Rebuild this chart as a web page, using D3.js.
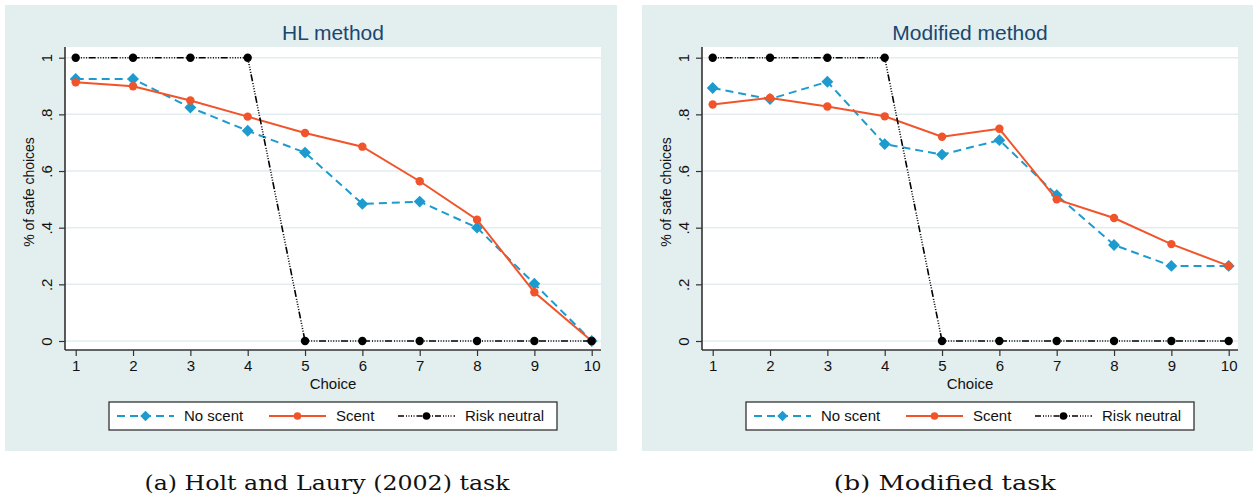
<!DOCTYPE html>
<html>
<head>
<meta charset="utf-8">
<script src="https://cdn.jsdelivr.net/npm/d3@7"></script>
<style>
  body { margin: 0; background: #fff; }
  svg { display: block; }
</style>
</head>
<body>
<svg width="1253" height="500"></svg>
<script>
// данные
const choices = [1, 2, 3, 4, 5, 6, 7, 8, 9, 10];
const yTicks = [0, 0.2, 0.4, 0.6, 0.8, 1];
const yTickLabels = ["0", ".2", ".4", ".6", ".8", "1"];
const seriesNames = ["No scent", "Scent", "Risk neutral"];

const hlNoScent = [0.925, 0.925, 0.824, 0.742, 0.665, 0.484, 0.492, 0.400, 0.202, 0.0];
const hlScent = [0.913, 0.899, 0.849, 0.792, 0.734, 0.686, 0.564, 0.428, 0.172, 0.0];
const modNoScent = [0.893, 0.854, 0.915, 0.695, 0.658, 0.709, 0.515, 0.339, 0.265, 0.265];
const modScent = [0.835, 0.858, 0.828, 0.793, 0.721, 0.749, 0.500, 0.434, 0.342, 0.265];
const riskNeutral = [1, 1, 1, 1, 0, 0, 0, 0, 0, 0];

const panelTitles = ["HL method", "Modified method"];
const captions = ["(a) Holt and Laury (2002) task", "(b) Modified task"];
const captionWidths = [365, 222];

const colNoScent = "#1d9bcf";
const colScent = "#f1542a";
const colRisk = "#000";
const fontSans = "'Liberation Sans', Arial, sans-serif";

const svg = d3.select("svg");

function drawPanel(dx, title, caption, capWidth, noScent, scent) {
    const attr = {
        left: 65 + dx, right: 601 + dx,
        top: 47, bottom: 350
    };
    const g = svg.append("g");

    // фон панели
    g.append("rect")
        .attr("x", 5 + dx).attr("y", 5)
        .attr("width", 612).attr("height", 446)
        .style("fill", "#e3eeef");

    g.append("rect")
        .attr("x", attr.left).attr("y", attr.top)
        .attr("width", attr.right - attr.left).attr("height", attr.bottom - attr.top)
        .style("fill", "#fff");

    const scX = d3.scaleLinear().domain([1, 10]).range([75.7 + dx, 591.7 + dx]);
    const scY = d3.scaleLinear().domain([0, 1]).range([341, 57.7]);

    // сетка
    g.selectAll(".grid")
        .data(yTicks)
        .enter()
        .append("line")
        .attr("x1", attr.left).attr("x2", attr.right)
        .attr("y1", d => scY(d)).attr("y2", d => scY(d))
        .style("stroke", "#e1edf1")
        .style("stroke-width", 1.5);

    // оси
    const axY = g.append("g")
        .attr("transform", `translate(${attr.left}, 0)`)
        .call(d3.axisLeft(scY).tickValues(yTicks)
            .tickFormat((d, i) => yTickLabels[i]).tickSize(6).tickPadding(4));
    axY.select(".domain").attr("d", `M0,${attr.top}V${attr.bottom}`);
    axY.selectAll("text")
        .attr("transform", "rotate(-90)")
        .attr("x", 0).attr("y", -18)
        .attr("dy", "0.35em")
        .style("text-anchor", "middle");

    const axX = g.append("g")
        .attr("transform", `translate(0, ${attr.bottom})`)
        .call(d3.axisBottom(scX).tickValues(choices).tickFormat(d3.format("d")).tickSize(6).tickPadding(4));
    axX.select(".domain").attr("d", `M${attr.left},0H${attr.right}`);

    [axX, axY].forEach(ax => {
        ax.selectAll("text").style("font-family", fontSans).style("font-size", "15px").style("fill", "#111");
        ax.selectAll("line").style("stroke", "#333").style("stroke-width", 1.2);
        ax.select(".domain").style("stroke", "#333").style("stroke-width", 1.6);
    });

    // подписи
    g.append("text")
        .attr("x", (attr.left + attr.right) / 2).attr("y", 40)
        .style("text-anchor", "middle")
        .style("font-family", fontSans).style("font-size", "21px")
        .style("fill", "#1a476f")
        .text(title);

    g.append("text")
        .attr("x", (attr.left + attr.right) / 2).attr("y", 389)
        .style("text-anchor", "middle")
        .style("font-family", fontSans).style("font-size", "15px")
        .style("fill", "#111")
        .text("Choice");

    g.append("text")
        .attr("transform", `translate(${29 + dx}, 192) rotate(-90)`)
        .attr("dy", "0.35em")
        .style("text-anchor", "middle")
        .style("font-family", fontSans).style("font-size", "14px")
        .style("fill", "#111")
        .text("% of safe choices");

    // линии
    const lineGen = d3.line()
        .x((d, i) => scX(choices[i]))
        .y(d => scY(d));

    g.append("path").datum(noScent)
        .attr("d", lineGen)
        .style("fill", "none").style("stroke", colNoScent)
        .style("stroke-width", 2).style("stroke-dasharray", "8,5");
    g.selectAll(".ns-point")
        .data(noScent)
        .enter()
        .append("path")
        .attr("d", d3.symbol(d3.symbolDiamond2, 90))
        .attr("transform", (d, i) => `translate(${scX(choices[i])}, ${scY(d)})`)
        .style("fill", colNoScent);

    g.append("path").datum(scent)
        .attr("d", lineGen)
        .style("fill", "none").style("stroke", colScent)
        .style("stroke-width", 2);
    g.selectAll(".s-point")
        .data(scent)
        .enter()
        .append("circle")
        .attr("cx", (d, i) => scX(choices[i]))
        .attr("cy", d => scY(d))
        .attr("r", 4.2)
        .style("fill", colScent);

    g.append("path").datum(riskNeutral)
        .attr("d", lineGen)
        .style("fill", "none").style("stroke", colRisk)
        .style("stroke-width", 1.6)
        .style("stroke-dasharray", "1,1.6,1,1.6,1,1.6,1,1.6,1,1.6,7,2");
    g.selectAll(".rn-point")
        .data(riskNeutral)
        .enter()
        .append("circle")
        .attr("cx", (d, i) => scX(choices[i]))
        .attr("cy", d => scY(d))
        .attr("r", 4.2)
        .style("fill", colRisk);

    // легенда
    const leg = g.append("g").attr("transform", `translate(${109 + dx}, 402)`);
    leg.append("rect")
        .attr("width", 448).attr("height", 28)
        .style("fill", "#fff").style("stroke", "#333").style("stroke-width", 1.3);

    const items = [
        { x: 8, color: colNoScent, dash: "8,5", w: 2, mark: "diamond" },
        { x: 160, color: colScent, dash: null, w: 2, mark: "circle" },
        { x: 289, color: colRisk, dash: "6,2,1,1.5,1,1.5,1,1.5,1,2", w: 1.5, mark: "circle" }
    ];
    items.forEach((it, i) => {
        leg.append("line")
            .attr("x1", it.x).attr("x2", it.x + 57)
            .attr("y1", 14).attr("y2", 14)
            .style("stroke", it.color).style("stroke-width", it.w)
            .style("stroke-dasharray", it.dash);
        if (it.mark === "diamond") {
            leg.append("path")
                .attr("d", d3.symbol(d3.symbolDiamond2, 70))
                .attr("transform", `translate(${it.x + 28.5}, 14)`)
                .style("fill", it.color);
        } else {
            leg.append("circle")
                .attr("cx", it.x + 28.5).attr("cy", 14).attr("r", 3.8)
                .style("fill", it.color);
        }
        leg.append("text")
            .attr("x", it.x + 67).attr("y", 14)
            .attr("dy", "0.35em")
            .style("font-family", fontSans).style("font-size", "15px")
            .style("fill", "#111")
            .text(seriesNames[i]);
    });

    // подпись под графиком
    svg.append("text")
        .attr("x", 327 + dx * 0.97).attr("y", 490)
        .style("text-anchor", "middle")
        .attr("textLength", capWidth)
        .attr("lengthAdjust", "spacingAndGlyphs")
        .style("font-family", "'DejaVu Serif', 'Liberation Serif', serif")
        .style("font-size", "21px")
        .style("fill", "#111")
        .text(caption);
}

drawPanel(0, panelTitles[0], captions[0], captionWidths[0], hlNoScent, hlScent);
drawPanel(637, panelTitles[1], captions[1], captionWidths[1], modNoScent, modScent);
</script>
</body>
</html>
